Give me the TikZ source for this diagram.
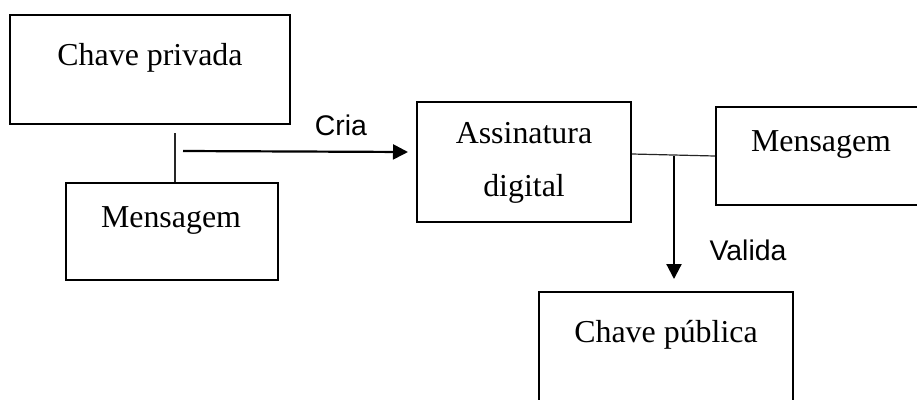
\documentclass[tikz,border=0pt]{standalone}
\usepackage{fontspec}
\setmainfont{Liberation Serif}
\newfontfamily\lblfont{Liberation Sans}
\usetikzlibrary{arrows.meta}
\tikzset{
  box/.style={draw, line width=2.4pt, inner sep=0pt},
  txt/.style={anchor=base, inner sep=0pt, font=\fontsize{31.9}{53}\selectfont, align=center},
  lbl/.style={anchor=base, inner sep=0pt, font=\lblfont\fontsize{28.4}{34}\selectfont},
  conn/.style={line width=1.2pt, black!85},
  arr/.style={line width=2.2pt, -{Triangle[length=15pt,width=15pt]}}
}
\begin{document}
\begin{tikzpicture}[x=1pt,y=-1pt]
  \useasboundingbox (0,0) rectangle (917,399);
  \clip (0,0) rectangle (917,399);
  % caixas
  \node[box, minimum width=280pt, minimum height=109pt] (privada) at (150,69.5) {};
  \node[box, minimum width=212pt, minimum height=97pt] (msgL) at (172,231.5) {};
  \node[box, minimum width=214pt, minimum height=120pt] (assin) at (524,162) {};
  \node[box, minimum width=230pt, minimum height=98pt] (msgR) at (831,156) {};
  \node[box, minimum width=254pt, minimum height=120pt] (publica) at (666,352) {};
  % textos
  \node[txt] (tPrivada) at (150,65) {Chave privada};
  \node[txt] (tMsgL) at (171,227) {Mensagem};
  \node[txt] (tAssin) at (524,196) {Assinatura\\digital};
  \node[txt] (tMsgR) at (821,151) {Mensagem};
  \node[txt] (tPublica) at (666,342) {Chave pública};
  \node[lbl] (cria) at (341,135) {Cria};
  \node[lbl] (valida) at (748,260) {Valida};
  % ligacoes
  \coordinate (jL) at (175,133);
  \coordinate (criaS) at (183,151);
  \coordinate (criaE) at (408,152);
  \coordinate (jR) at (674,156);
  \coordinate (validaE) at (674,279);
  \draw[conn] (jL) -- (jL |- msgL.north);
  \draw[arr] (criaS) -- (criaE);
  \draw[conn] ([yshift=8pt]assin.east) -- (msgR.west);
  \draw[arr] (jR) -- (validaE);
\end{tikzpicture}
\end{document}
